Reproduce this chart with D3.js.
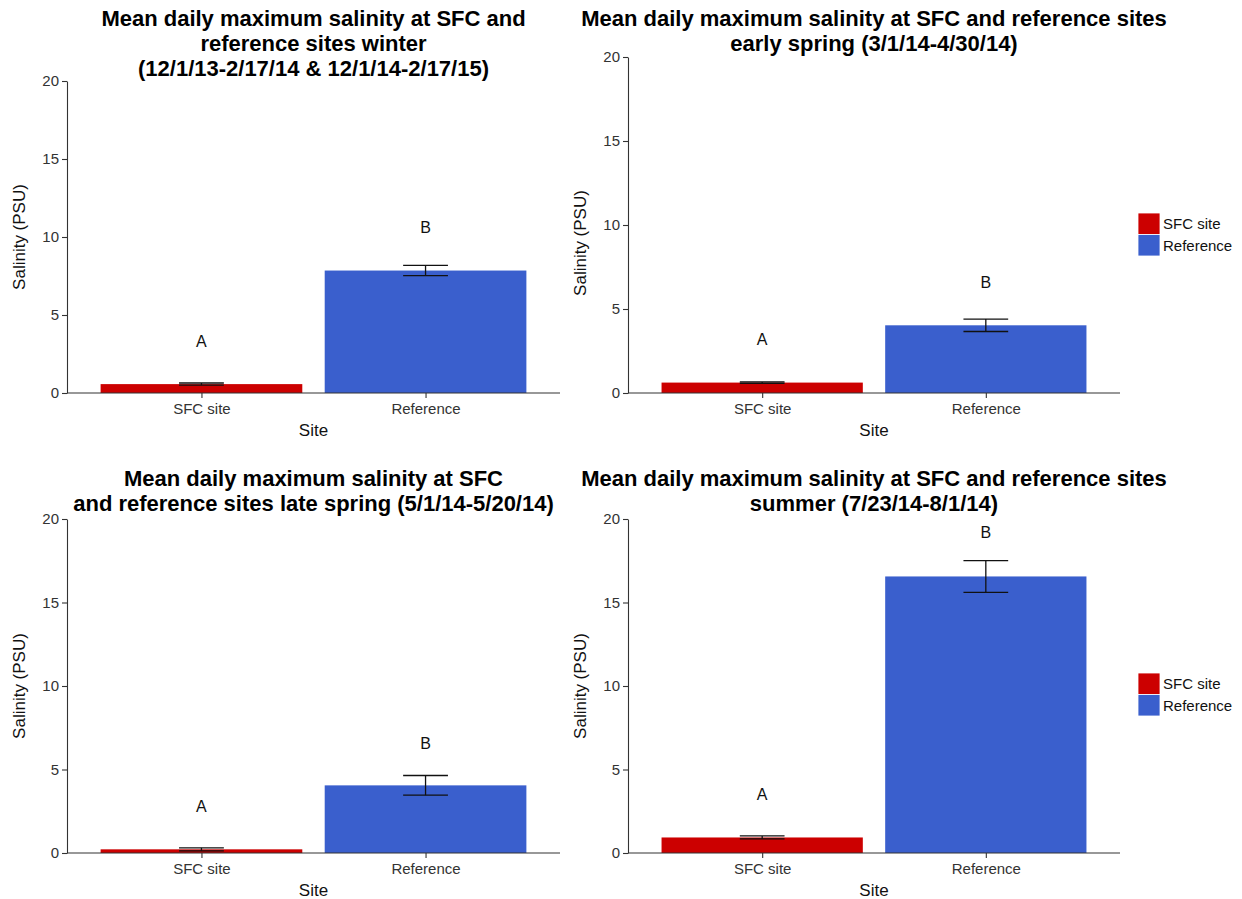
<!DOCTYPE html>
<html>
<head>
<meta charset="utf-8">
<script src="https://cdn.jsdelivr.net/npm/d3@7"></script>
<style>
  html, body { margin: 0; padding: 0; background: #fff; }
  svg { display: block; font-family: "Liberation Sans", Arial, sans-serif; }
</style>
</head>
<body>
<svg id="chart" width="1242" height="899"></svg>
<script>
// Site categories shared by every panel
const sites = ["SFC site", "Reference"];
const siteColors = ["#CC0000", "#3A5FCD"];

// Panel titles (one array of lines per season)
const panelTitles = [
  ["Mean daily maximum salinity at SFC and", "reference sites winter", "(12/1/13-2/17/14 & 12/1/14-2/17/15)"],
  ["Mean daily maximum salinity at SFC and reference sites", "early spring (3/1/14-4/30/14)"],
  ["Mean daily maximum salinity at SFC", "and reference sites late spring (5/1/14-5/20/14)"],
  ["Mean daily maximum salinity at SFC and reference sites", "summer (7/23/14-8/1/14)"]
];

// Mean daily maximum salinity (PSU): [SFC site, Reference] per season
const winterMean = [0.57, 7.85];
const earlySpringMean = [0.62, 4.03];
const lateSpringMean = [0.22, 4.05];
const summerMean = [0.93, 16.56];

// Standard errors: [SFC site, Reference]
const winterSE = [0.07, 0.33];
const earlySpringSE = [0.04, 0.37];
const lateSpringSE = [0.09, 0.59];
const summerSE = [0.09, 0.95];

// Significance letters and the salinity value they sit at
const groupLetters = ["A", "B"];
const winterLetterAt = [3.3, 10.6];
const earlySpringLetterAt = [3.2, 6.6];
const lateSpringLetterAt = [2.8, 6.6];
const summerLetterAt = [3.5, 19.2];

const yTicks = [0, 5, 10, 15, 20];
const yDomain = [0, 20];

const means = [winterMean, earlySpringMean, lateSpringMean, summerMean];
const errors = [winterSE, earlySpringSE, lateSpringSE, summerSE];
const letterAt = [winterLetterAt, earlySpringLetterAt, lateSpringLetterAt, summerLetterAt];

// Plot-area geometry for each panel
const layout = [
  { left: 67,  right: 560,  top: 81,  bottom: 393, titleY: 18,  legend: false },
  { left: 628, right: 1120, top: 57,  bottom: 393, titleY: 18,  legend: true, legendY: 213 },
  { left: 67,  right: 560,  top: 519, bottom: 853, titleY: 478, legend: false },
  { left: 628, right: 1120, top: 519, bottom: 853, titleY: 478, legend: true, legendY: 673 }
];

const svg = d3.select("#chart");
const axisColor = "#333";

layout.forEach((L, i) => {
  const g = svg.append("g");

  // Discrete x: two categories on positions 1 and 2, range expanded 0.6 each side
  const x = d3.scaleLinear().domain([0.4, 2.6]).range([L.left, L.right]);
  const cx = d => x(sites.indexOf(d) + 1);
  const barW = x(0.9) - x(0);
  const capW = x(0.2) - x(0);

  const y = d3.scaleLinear().domain(yDomain).range([L.bottom, L.top]);

  const rows = sites.map((s, k) => ({
    site: s, mean: means[i][k], se: errors[i][k], letter: groupLetters[k], at: letterAt[i][k], color: siteColors[k]
  }));

  // Bars
  g.selectAll("rect.bar").data(rows).enter().append("rect")
    .attr("class", "bar")
    .attr("x", d => cx(d.site) - barW / 2)
    .attr("width", barW)
    .attr("y", d => y(d.mean))
    .attr("height", d => y(0) - y(d.mean))
    .attr("fill", d => d.color);

  // Error bars
  const eb = g.selectAll("g.err").data(rows).enter().append("g")
    .attr("class", "err")
    .attr("stroke", "#111")
    .attr("stroke-width", 1.3)
    .attr("fill", "none");
  eb.append("line")
    .attr("x1", d => cx(d.site)).attr("x2", d => cx(d.site))
    .attr("y1", d => y(d.mean + d.se)).attr("y2", d => y(d.mean - d.se));
  eb.append("line")
    .attr("x1", d => cx(d.site) - capW / 2).attr("x2", d => cx(d.site) + capW / 2)
    .attr("y1", d => y(d.mean + d.se)).attr("y2", d => y(d.mean + d.se));
  eb.append("line")
    .attr("x1", d => cx(d.site) - capW / 2).attr("x2", d => cx(d.site) + capW / 2)
    .attr("y1", d => y(d.mean - d.se)).attr("y2", d => y(d.mean - d.se));

  // Group letters
  g.selectAll("text.letter").data(rows).enter().append("text")
    .attr("class", "letter")
    .attr("x", d => cx(d.site))
    .attr("y", d => y(d.at))
    .attr("dy", "0.36em")
    .attr("text-anchor", "middle")
    .attr("font-size", 16)
    .attr("fill", "#111")
    .text(d => d.letter);

  // Y axis
  const yAxis = d3.axisLeft(y).tickValues(yTicks).tickSize(5).tickPadding(3).tickSizeOuter(0);
  const ya = g.append("g").attr("transform", `translate(${L.left},0)`).call(yAxis);
  ya.select(".domain").attr("stroke", axisColor).attr("stroke-width", 1.1);
  ya.selectAll(".tick line").attr("stroke", axisColor).attr("stroke-width", 1.1);
  ya.selectAll(".tick text").attr("font-size", 15).attr("fill", "#333")
    .attr("font-family", "Liberation Sans, Arial, sans-serif");

  // X axis
  const xPos = d3.scalePoint().domain(sites).range([cx(sites[0]), cx(sites[1])]);
  const xAxis = d3.axisBottom(xPos).tickSize(5).tickPadding(5).tickSizeOuter(0);
  const xa = g.append("g").attr("transform", `translate(0,${L.bottom})`).call(xAxis);
  xa.select(".domain").remove();
  g.append("line")
    .attr("x1", L.left).attr("x2", L.right)
    .attr("y1", L.bottom).attr("y2", L.bottom)
    .attr("stroke", axisColor).attr("stroke-width", 1.1);
  xa.selectAll(".tick line").attr("stroke", axisColor).attr("stroke-width", 1.1);
  xa.selectAll(".tick text").attr("font-size", 15).attr("fill", "#333")
    .attr("font-family", "Liberation Sans, Arial, sans-serif");

  // Axis titles
  const midX = (L.left + L.right) / 2;
  g.append("text")
    .attr("x", midX).attr("y", L.bottom + 43)
    .attr("text-anchor", "middle")
    .attr("font-size", 17).attr("fill", "#111")
    .text("Site");
  g.append("text")
    .attr("transform", `translate(${L.left - 42},${(L.top + L.bottom) / 2 + (i === 1 ? 18 : 0)}) rotate(-90)`)
    .attr("text-anchor", "middle")
    .attr("font-size", 17).attr("fill", "#111")
    .text("Salinity (PSU)");

  // Title
  const t = g.append("text")
    .attr("text-anchor", "middle")
    .attr("font-size", 22)
    .attr("font-weight", "bold")
    .attr("fill", "#000");
  panelTitles[i].forEach((line, j) => {
    t.append("tspan")
      .attr("x", midX)
      .attr("y", L.titleY + j * 25)
      .attr("dy", "0.35em")
      .text(line);
  });

  // Legend
  if (L.legend) {
    const lg = g.append("g").attr("transform", `translate(${L.right + 18},${L.legendY})`);
    sites.forEach((s, k) => {
      lg.append("rect")
        .attr("x", 0).attr("y", k * 21.5)
        .attr("width", 22).attr("height", 21.5)
        .attr("fill", siteColors[k])
        .attr("stroke", "#fff").attr("stroke-width", 0.8);
      lg.append("text")
        .attr("x", 25).attr("y", k * 21.5 + 11)
        .attr("dy", "0.35em")
        .attr("font-size", 15).attr("fill", "#111")
        .text(s);
    });
  }
});
</script>
</body>
</html>
